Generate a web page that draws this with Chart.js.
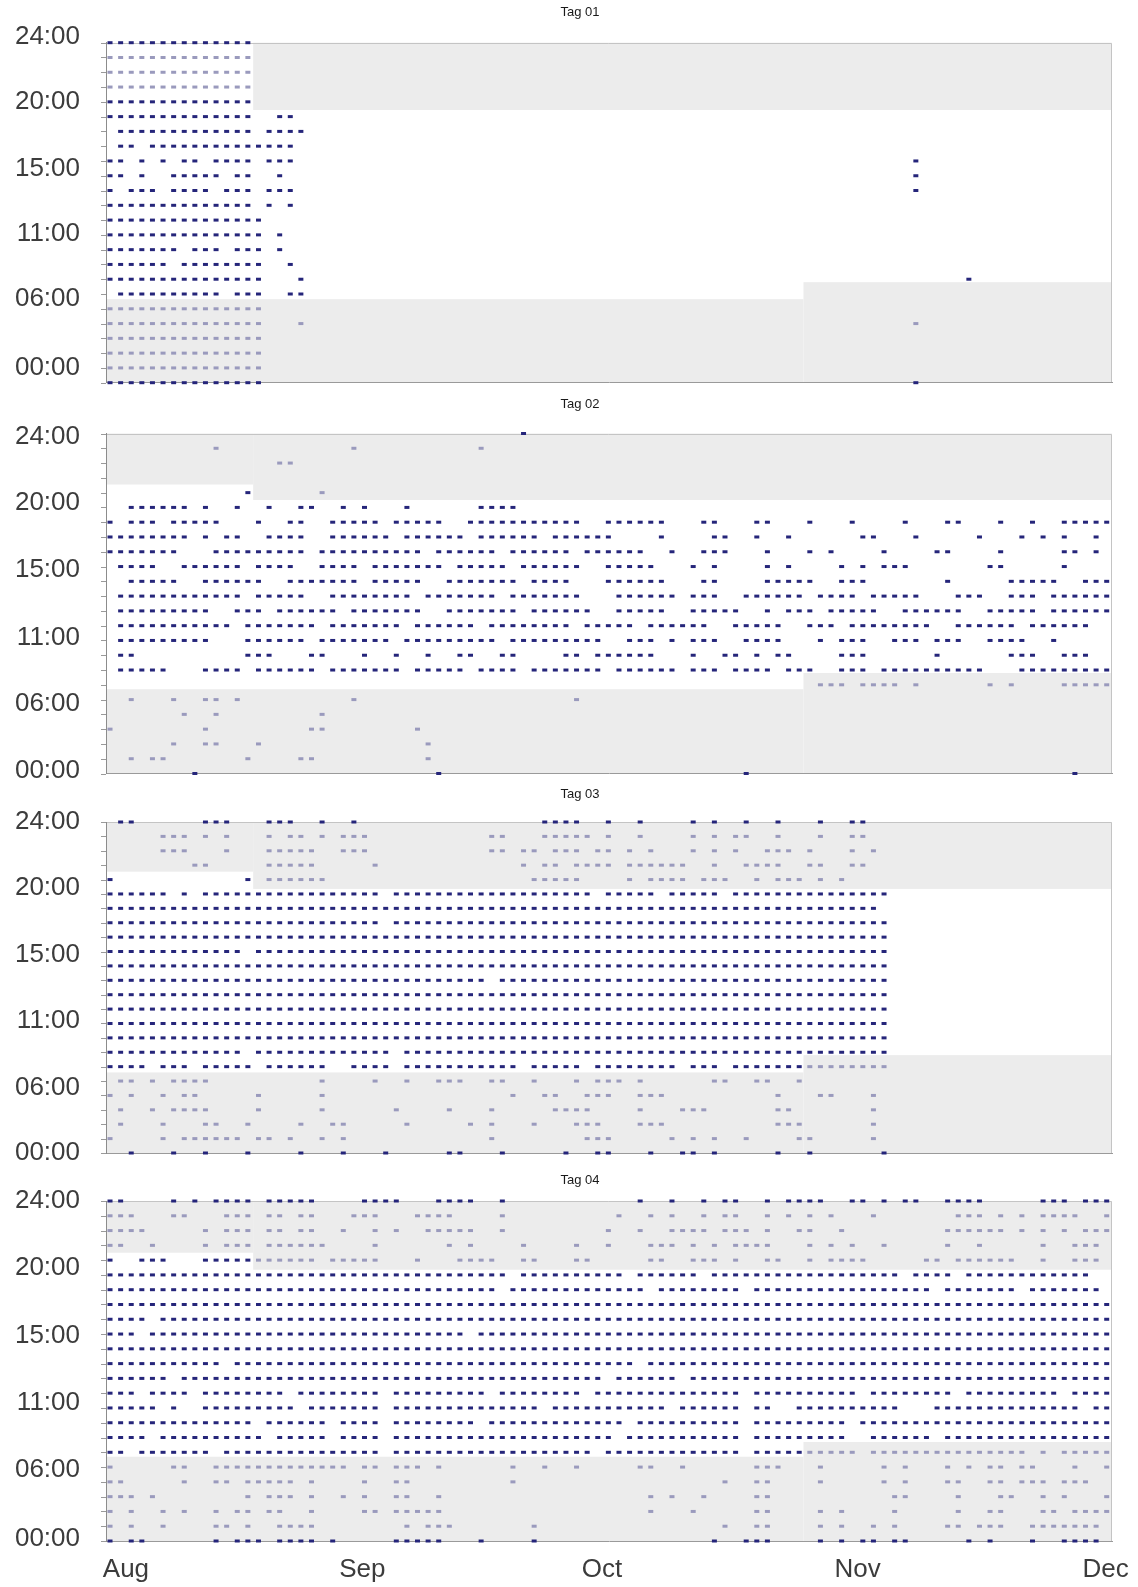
<!DOCTYPE html>
<html><head><meta charset="utf-8">
<script src="https://cdn.jsdelivr.net/npm/chart.js@4.4.1/dist/chart.umd.min.js"></script>
<style>
html,body{margin:0;padding:0;background:#fff;}
body{width:1138px;height:1587px;position:relative;overflow:hidden;}
canvas{position:absolute;left:0;}
</style></head>
<body>
<canvas id="c1" width="1138" height="425" style="top:0px"></canvas>
<canvas id="c2" width="1138" height="425" style="top:391px"></canvas>
<canvas id="c3" width="1138" height="415" style="top:780px"></canvas>
<canvas id="c4" width="1138" height="428" style="top:1159px"></canvas>
<script>
// ---------- DATA ----------
const titles = ['Tag 01', 'Tag 02', 'Tag 03', 'Tag 04'];
const monthLabels = ['Aug', 'Sep', 'Oct', 'Nov', 'Dec'];
const monthTickCols = [1.5, 23.8, 46.4, 70.5, 93.9];
const hourLabels = ['00:00', '06:00', '11:00', '15:00', '20:00', '24:00'];
const hourTicks1 = [1.03, 5.7, 10.06, 14.46, 19.01, 23.42];
const hourTicks2 = [0.2, 4.7, 9.2, 13.8, 18.3, 22.75];
const hourTicks3 = [0.0, 4.5, 9.2, 13.8, 18.4, 23.0];
const hourTicks4 = [0.17, 4.8, 9.32, 13.9, 18.5, 23.0];

// rows listed from top (hour slot 23) to bottom (hour slot 0); values = day columns
const tag01Rows = [
 "0-13","0-13","0-13","0-13","0-13",
 "0-13,16-17","1-13,15-18","1-2,4-17",
 "0-1,3,5,7-8,10-13,15-17,76","0-1,3,6-10,12-13,16,76","0,2-4,6-9,11-13,15-17,76",
 "0-13,15,17","0-14","0-14,16","0-6,8-10,12-14,16","0-5,7-14,17","0-14,18,81",
 "1-10,12-14,17-18","0-14","0-14,18,76","0-14","0-14","0-14","0-14,76"
];
const tag02Rows = [
 "39","10,23,35","16-17","","13,20",
 "2-7,9,12,15,18-19,22,24,28,35-38",
 "0,2-4,6-10,14,17-18,21-25,27-31,34-44,47-52,56-57,61-62,66,70,75,79-80,84,87,90-94",
 "0-7,9,11-12,15-18,21-26,28-33,35-40,42-47,52,57-58,61,64,71-72,76,82,86,88,90,93",
 "0-6,10-18,20-29,31-36,38-43,45-50,53,56-58,62,66,68,73,78-79,84,90-91,93",
 "1-4,7-12,14-17,20-23,25-31,33-37,39-44,47-51,55,57,62,64,69,71,73-75,83-84,90",
 "2-6,9-14,17-23,25-29,32-38,40-43,47-52,56-57,62-66,69-71,79,85-89,92-94",
 "1-12,14-18,21-28,30-36,38-44,48-53,55-57,60-65,67-70,72-76,80-82,85-87,89-94",
 "1-9,12-14,16-21,23-29,32-38,40-45,48-52,55-59,62,64-66,68-72,75-80,83-87,89-94",
 "1-11,13-19,21-27,29-34,36-43,45-49,51-56,59-63,66-68,70-77,80-85,87-92",
 "1-9,13-18,20-26,28-36,38-46,49-51,53,55-57,60-63,67,69-71,74-76,78-80,83-86,89",
 "1-2,13-15,19-20,24,27,30,33-34,37-38,43-44,46-51,55,58-59,61,63-64,69-71,78,85-87,90-92",
 "1-5,9-12,14-19,21-27,29-33,35-38,40-46,48-53,55-57,59-62,64-66,69-71,73-82,86-94",
 "67-69,71-74,76,83,85,90-94",
 "2,6,9-10,12,23,44","7,10,20","0,9,19-20,29","6,9-10,14,30","2,4-5,13,18-19,30","8,31,60,91"
];
const tag03Rows = [
 "1-2,9-11,15-17,20,23,41-44,47,50,55,57,60,63,67,70-71",
 "5-7,9,11,15,17-18,20,22-24,36-37,41-45,47,50,55,57,59-60,63,67,70-71",
 "5-7,11,15-19,22-24,36-37,39-40,42-44,46-47,49,51,55,57,59,62-64,66,70,72",
 "8-9,15-19,25,39,41-42,44-47,49-54,57,60-63,66-67,70-71",
 "0,13,15-20,40-44,49,51-54,56-58,61,63-65,67,69",
 "0-5,7,9-25,27-45,47-51,53-57,59-73",
 "0-72","0-25,27-73","0-73","0-12,14-73","0-73","0-35,37-73",
 "0-73","0-73","0-73","0-73","0-12,14-26,28-73",
 "0-3,5-7,9-13,15-20,23-26,28-38,40-44,46-53,55-57,59-73",
 "1-2,4,6-9,20,25,28,31-33,36-37,40,44,46-48,50,57-58,61-62,65",
 "0,2,5,7-8,14,20,38,41-42,45-47,50-52,63,67-68,72",
 "1,4,6-9,14,20,27,32,36,42-45,50,54-56,63-64,72",
 "1,5,9-10,13,18,21-22,28,34,36,40,44-46,50-52,63-65,72",
 "0,5,7-12,14-15,17,20,22,36,45-47,53,55,57,60,65-66,72",
 "2,6,9,13,18,22,26,32-33,37,43,46-47,51,54-55,57,63,66,73"
];
const tag04Rows = [
 "0-1,6,8,10-13,15-19,24-27,31-34,37,50,53,56,58-59,62,64-67,70-71,73,75-76,79-82,88-90,92-94",
 "0-2,6-7,11-13,15-16,18-19,23-25,29-32,37,48,51,53,56,58-59,62,64,66,68,72,80-82,84,86,88-91,94",
 "0-3,9,11-13,15-16,18-19,22,25,27,30-34,37,47,50,53-56,58-60,62,65-66,69,79-84,86,88,90,92-94",
 "0-1,4,9,11-13,15-19,20,25,32,34,39,44,47,51-53,55,57,59-62,66,68,70,73,79,82,88,91-93",
 "0,3-5,9-19,21-25,29,33-36,39-40,44-45,51-52,55-57,59,62-63,66,68-71,77-78,80-85,88,91-93",
 "0-37,39-48,50-55,57-74,76-79,81-92",
 "0-36,38-50,52-59,61-77,79-85,87-93",
 "0-94","0-3,5-94","0-2,4-33,35-94","0-94","0-10,12-49,51-94","0-5,7-46,48-53,55-94",
 "0-2,4-7,9-16,18-25,27-35,37-44,46-59,61-70,72-79,81-89,91-94",
 "0-4,6,9-17,19-25,27-40,42-52,54-59,61-62,65-74,78-91,93-94",
 "0-13,15-20,22-25,27-34,36-48,50-59,61-69,71-94",
 "0-3,5-14,16-20,22-25,27-47,49-59,61-69,72-77,79-94",
 "0-1,3-9,11-25,27-45,47-59,61-70,72-86,88,90-94",
 "0,6-7,10-22,24-25,27-29,31,38,41,44,50-51,54,61-63,67,73,75,79,81,83-84,86-87,91,94",
 "0-1,7,10-11,13-17,19,24,27-28,38,58,61-62,67,73,75,79-80,83-84,86-88,90-92",
 "0-2,4,13,15-17,19,22,24,27-28,31,51,53,56,61-62,74-75,80,84-85,88,90,94",
 "0,2,5,7,10,12-13,15-16,19,24-25,27-31,51,55,61-62,67,69,74,80,83-84,88-89,91-94",
 "0,2,5,10-11,13,16-19,28,30-32,40,58,61-62,67,69,72,74,79-80,82-84,87-93",
 "0,2-3,10,12-14,16-19,21,27-31,35,40,57,60-62,67,69,71-72,74-75,81,83,87,90-93"
];
// night bands: [fromCol, toCol, fromHour, toHour, fill]
const tag01Bands = [[-1,13.5,19.5,23,'#ffffff'],[13.5,95,18.45,23,'#ececec'],[-1,65.4,0,5.65,'#ececec'],[65.4,95,0,6.8,'#ececec']];
const tag02Bands = [[-1,13.5,19.55,23,'#ececec'],[13.5,95,18.5,23,'#ececec'],[-1,65.4,0,5.7,'#ececec'],[65.4,95,0,6.8,'#ececec']];
const tag03Bands = [[-1,13.5,19.55,23,'#ececec'],[13.5,95,18.35,23,'#ececec'],[-1,65.4,0,5.6,'#ececec'],[65.4,95,0,6.8,'#ececec']];
const tag04Bands = [[-1,13.5,19.5,23,'#ececec'],[13.5,95,18.35,23,'#ececec'],[-1,65.4,0,5.7,'#ececec'],[65.4,95,0,6.7,'#ececec']];

// ---------- RENDER ----------
const FONT = '"Liberation Sans", Arial, sans-serif';
Chart.defaults.font.family = FONT;
const DARK = '#25257a', LIGHT = '#9a9abd';
const XMIN = -0.38, XMAX = 94.5;

function parseRanges(s) {
  if (!s) return [];
  const out = [];
  s.split(',').forEach(p => {
    const [a, b] = p.split('-').map(Number);
    if (b === undefined) out.push(a); else for (let i = a; i <= b; i++) out.push(i);
  });
  return out;
}
function inBand(x, y, bands) {
  if (y <= 0 || y >= 23) return false;
  return bands.some(b => x >= b[0] && x <= b[1] && y >= b[2] && y <= b[3]);
}

const bandPlugin = {
  id: 'bands',
  afterLayout(chart) {
    chart.scales.y.left = 0;
  },
  beforeDraw(chart, args, opts) {
    const {ctx, chartArea: a, scales: {x, y}} = chart;
    ctx.save();
    opts.bands.forEach(b => {
      const x0 = Math.max(a.left, x.getPixelForValue(b[0]));
      const x1 = Math.min(a.right, x.getPixelForValue(b[1]));
      const y0 = Math.min(a.bottom, y.getPixelForValue(b[2]));
      const y1 = Math.max(a.top, y.getPixelForValue(b[3]));
      ctx.fillStyle = b[4];
      ctx.fillRect(x0, y1, x1 - x0, y0 - y1);
    });
    ctx.strokeStyle = '#c4c4c4';
    ctx.lineWidth = 1;
    ctx.beginPath();
    ctx.moveTo(a.left, Math.round(a.top) + 0.5);
    ctx.lineTo(Math.round(a.right) - 0.5, Math.round(a.top) + 0.5);
    ctx.lineTo(Math.round(a.right) - 0.5, a.bottom);
    ctx.stroke();
    ctx.strokeStyle = '#9a9a9a';
    ctx.beginPath();
    for (let h = 0; h <= 23; h++) {
      const py = Math.round(y.getPixelForValue(h)) + 0.5;
      ctx.moveTo(a.left - 5, py); ctx.lineTo(a.left, py);
    }
    ctx.stroke();
    ctx.restore();
  }
};

function makePanel(id, idx, rows, bands, hourTicks, titlePadTop, titlePadBottom, bottomPad, showX, xHeight) {
  const pts = [], colors = [];
  rows.forEach((r, k) => {
    const h = 23 - k;
    parseRanges(r).forEach(c => {
      pts.push({x: c, y: h});
      colors.push(inBand(c, h, bands) ? LIGHT : DARK);
    });
  });
  new Chart(document.getElementById(id), {
    type: 'scatter',
    data: {datasets: [{
      data: pts,
      pointStyle: 'line', pointRadius: 2.5, pointHoverRadius: 2.5,
      pointBorderWidth: 3, pointBorderColor: colors, pointBackgroundColor: colors,
      clip: false
    }]},
    options: {
      responsive: false, animation: false, events: [], devicePixelRatio: 1,
      layout: {padding: {left: 48, right: 26, top: 0, bottom: bottomPad}},
      plugins: {
        legend: {display: false}, tooltip: {enabled: false},
        title: {display: true, text: titles[idx], color: '#1a1a1a',
          font: {family: FONT, size: 13, weight: 'normal', lineHeight: 1.2},
          padding: {top: titlePadTop, bottom: titlePadBottom}},
        bands: {bands: bands}
      },
      scales: {
        x: {
          type: 'linear', min: XMIN, max: XMAX,
          grid: {display: false, drawTicks: false},
          border: {display: true, color: '#9a9a9a'},
          ticks: {display: showX, autoSkip: false, padding: 0, color: '#3c3c3c',
            font: {family: FONT, size: 26, lineHeight: 2.2},
            callback: (v, i) => monthLabels[i]},
          afterBuildTicks: s => { s.ticks = showX ? monthTickCols.map(v => ({value: v})) : []; },
          afterFit: s => { s.height = xHeight; }
        },
        y: {
          type: 'linear', min: 0, max: 23,
          grid: {display: false, drawTicks: false},
          border: {display: true, color: '#8c8c8c'},
          ticks: {autoSkip: false, padding: 26, color: '#3c3c3c',
            font: {family: FONT, size: 26, lineHeight: 1.2},
            callback: (v, i) => hourLabels[i]},
          afterBuildTicks: s => { s.ticks = hourTicks.map(v => ({value: v})); },
          afterFit: s => { s.width = 58; }
        }
      }
    },
    plugins: [bandPlugin]
  });
}

// canvas tops: 0, 391, 780, 1159
makePanel('c1', 0, tag01Rows, tag01Bands, hourTicks1, 4.2, 22.9, 42.3, false, 0);
makePanel('c2', 1, tag02Rows, tag02Bands, hourTicks2, 5.2, 21.7, 42.5, false, 0);
makePanel('c3', 2, tag03Rows, tag03Bands, hourTicks3, 6.2, 20.2, 42, false, 0);
makePanel('c4', 3, tag04Rows, tag04Bands, hourTicks4, 13.2, 13.2, 0, true, 46);
</script>
</body></html>
